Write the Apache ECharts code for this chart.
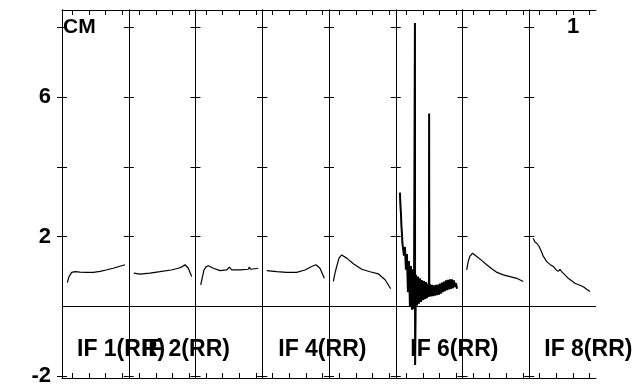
<!DOCTYPE html>
<html>
<head>
<meta charset="utf-8">
<script src="https://cdn.jsdelivr.net/npm/echarts/dist/echarts.min.js"></script>
<style>
  html, body { margin: 0; padding: 0; background: #fff; }
  #chart { width: 635px; height: 385px; }
</style>
</head>
<body>
<div id="chart"></div>
<script>
// panel captions (empty = no caption under that panel)
const panelLabels = ["IF 1(RR)", "IF 2(RR)", "", "IF 4(RR)", "", "IF 6(RR)", "", "IF 8(RR)"];
const yTicks = [-2, 2, 4, 6, 8];
const yLabels = [-2, 2, 6];
const xTicks = [0.62, 1.62, 2.62, 3.62];

// each panel: [x, amplitude], x runs 0..4 inside the panel
const if1 = [[0.32,0.68],[0.42,0.85],[0.58,0.97],[0.78,0.99],[1.08,0.98],[1.5,0.97],[1.88,0.97],[2.28,1.0],[2.64,1.04],[3.06,1.09],[3.42,1.14],[3.78,1.19]];
const if2 = [[0.31,0.95],[0.67,0.92],[1.27,0.95],[1.87,0.99],[2.55,1.04],[2.97,1.09],[3.19,1.13],[3.37,1.19],[3.57,1.09],[3.77,0.85]];
const if3 = [[0.31,0.61],[0.42,0.85],[0.51,1.04],[0.63,1.13],[0.77,1.16],[1.07,1.09],[1.47,1.02],[1.87,1.04],[2.03,1.12],[2.17,1.04],[2.67,1.04],[3.16,1.06],[3.22,1.12],[3.31,1.06],[3.76,1.09]];
const if4 = [[0.27,1.02],[0.87,0.99],[1.46,0.97],[2.06,0.97],[2.56,1.04],[2.96,1.14],[3.22,1.19],[3.46,1.09],[3.72,0.8]];
const if5 = [[0.26,0.71],[0.36,0.95],[0.46,1.14],[0.6,1.38],[0.76,1.47],[1.06,1.38],[1.46,1.22],[1.96,1.06],[2.46,0.99],[2.95,0.93],[3.36,0.76],[3.7,0.5]];
const if6 = [[0.25,3.26],[0.28,2.9],[0.31,2.68],[0.34,2.3],[0.37,2.1],[0.4,1.8],[0.43,1.75],
  [0.49,1.45],[0.55,1.7],[0.61,1.05],[0.67,1.5],[0.73,0.4],[0.79,1.3],[0.85,0.0],[0.91,1.15],[0.97,-0.1],[1.03,1.06],[1.09,-0.09],
  [1.15,8.13],[1.16,-1.69],
  [1.21,0.9],[1.27,0.02],[1.33,0.85],[1.39,0.07],[1.45,0.8],[1.51,0.12],[1.57,0.75],[1.63,0.17],[1.69,0.72],[1.75,0.2],[1.81,0.69],[1.87,0.23],[1.93,0.65],[1.99,0.27],
  [2.0,5.53],[2.01,0.38],
  [2.05,0.63],[2.11,0.28],[2.17,0.61],[2.23,0.29],[2.29,0.6],[2.35,0.3],[2.41,0.61],[2.47,0.32],[2.53,0.62],[2.59,0.33],[2.65,0.65],[2.71,0.36],[2.77,0.68],[2.83,0.4],[2.89,0.71],[2.95,0.43],[3.01,0.74],[3.07,0.46],[3.13,0.76],[3.19,0.48],[3.25,0.77],[3.31,0.5],[3.37,0.77],[3.43,0.52],[3.49,0.74],[3.55,0.55],[3.61,0.66],[3.67,0.5]];
const if7 = [[0.25,1.04],[0.35,1.3],[0.45,1.44],[0.6,1.52],[0.69,1.5],[0.87,1.42],[1.11,1.33],[1.45,1.19],[1.77,1.07],[2.07,0.97],[2.44,0.9],[2.85,0.85],[3.25,0.8],[3.64,0.71]];
const if8 = [[0.24,1.95],[0.34,1.84],[0.46,1.8],[0.58,1.72],[0.64,1.67],[0.75,1.55],[0.82,1.45],[1.05,1.28],[1.24,1.2],[1.44,1.14],[1.6,1.05],[1.74,1.0],[1.84,1.06],[1.93,1.0],[2.04,0.95],[2.34,0.8],[2.74,0.66],[3.04,0.6],[3.24,0.56],[3.46,0.48],[3.64,0.42]];
const panels = [if1, if2, if3, if4, if5, if6, if7, if8];

const FONT = "'Liberation Sans', Arial, sans-serif";
const plotLeft = 62, plotTop = 10, plotH = 368, panelW = 66.75;
const labelOffset = [15, 13, 0, 16, 0, 14.5, 0, 15];

let grids = [], xAxes = [], yAxes = [], series = [], graphics = [];

panels.forEach((data, i) => {
  const left = plotLeft + i * panelW;
  grids.push({ left: left, top: plotTop, width: panelW, height: plotH,
               containLabel: false, outerBoundsMode: "none" });

  const xBase = {
    type: "value", gridIndex: i, min: 0, max: 4,
    axisLine: { show: true, onZero: false, lineStyle: { color: "#000", width: 1 } },
    axisTick: { show: true, inside: true, length: 5, customValues: xTicks, lineStyle: { color: "#000" } },
    axisLabel: { show: false },
    splitLine: { show: false }
  };
  xAxes.push(Object.assign({ position: "bottom" }, xBase));
  xAxes.push(Object.assign({ position: "top" }, xBase));

  const yBase = {
    type: "value", gridIndex: i, min: -2.06, max: 8.5,
    axisLine: { show: true, lineStyle: { color: "#000", width: 1 } },
    axisTick: { show: true, inside: true, length: 5, customValues: yTicks, lineStyle: { color: "#000" } },
    axisLabel: { show: false },
    splitLine: { show: false }
  };
  yAxes.push(Object.assign({ position: "left" }, yBase));
  yAxes.push(Object.assign({ position: "right" }, yBase));

  series.push({
    type: "line",
    xAxisIndex: 2 * i,
    yAxisIndex: 2 * i,
    data: data,
    showSymbol: false,
    silent: true,
    lineStyle: { color: "#000", width: i === 5 ? 2 : 1.2 },
    markLine: {
      silent: true,
      symbol: "none",
      label: { show: false },
      lineStyle: { color: "#000", width: 1.2, type: "solid" },
      data: [{ yAxis: 0 }]
    }
  });

  if (panelLabels[i]) {
    graphics.push({
      type: "text", x: left + labelOffset[i], y: 350, z: 10,
      style: { text: panelLabels[i], font: "bold 23px " + FONT, fill: "#000",
               verticalAlign: "middle", textVerticalAlign: "middle" }
    });
  }
});

// outer tick marks + tick labels on the left edge
yAxes.push({
  type: "value", gridIndex: 0, position: "left", min: -2.06, max: 8.5,
  axisLine: { show: false },
  axisTick: { show: true, inside: false, length: 5, customValues: yTicks, lineStyle: { color: "#000" } },
  axisLabel: { show: true, customValues: yLabels, margin: 11, color: "#000",
               fontFamily: FONT, fontWeight: "bold", fontSize: 22 },
  splitLine: { show: false }
});

graphics.push({
  type: "text", x: 63, y: 27, z: 10,
  style: { text: "CM", font: "bold 21px " + FONT, fill: "#000", verticalAlign: "middle", textVerticalAlign: "middle" }
});
graphics.push({
  type: "text", x: 573, y: 27, z: 10,
  style: { text: "1", font: "bold 22px " + FONT, fill: "#000",
           align: "center", textAlign: "center", verticalAlign: "middle", textVerticalAlign: "middle" }
});

const option = {
  backgroundColor: "#fff",
  animation: false,
  grid: grids,
  xAxis: xAxes,
  yAxis: yAxes,
  series: series,
  graphic: graphics
};

const myChart = echarts.init(document.getElementById("chart"));
myChart.setOption(option);
</script>
</body>
</html>
